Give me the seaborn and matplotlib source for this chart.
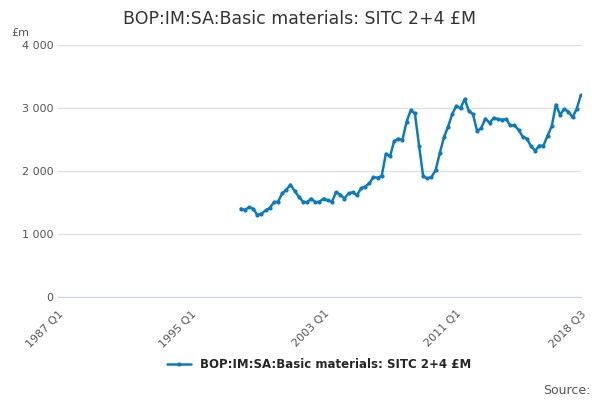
import numpy as np
import pandas as pd
import seaborn as sns
import matplotlib.pyplot as plt
from matplotlib.ticker import FuncFormatter

series_name = "BOP:IM:SA:Basic materials: SITC 2+4 £M"
start_quarter = 44  # 1998 Q1, counted from 1987 Q1
values = [
    1400, 1380, 1420, 1400,
    1300, 1320, 1370, 1410,
    1500, 1510, 1640, 1700,
    1780, 1680, 1590, 1510,
    1500, 1560, 1500, 1510,
    1560, 1530, 1510, 1660,
    1620, 1560, 1640, 1660,
    1610, 1720, 1750, 1800,
    1900, 1890, 1920, 2270,
    2230, 2470, 2510, 2490,
    2780, 2960, 2910, 2400,
    1910, 1880, 1900, 2010,
    2280, 2530, 2700, 2900,
    3030, 2990, 3140, 2950,
    2900, 2630, 2680, 2830,
    2760, 2840, 2820, 2810,
    2820, 2720, 2720, 2650,
    2540, 2510, 2390, 2320,
    2400, 2400, 2560, 2710,
    3050, 2890, 2980, 2940,
    2850, 2980, 3200,
]
tick_labels = ["1987 Q1", "1995 Q1", "2003 Q1", "2011 Q1", "2018 Q3"]
tick_pos = [0, 32, 64, 96, 126]

df = pd.DataFrame({"q": np.arange(start_quarter, start_quarter + len(values)), "v": values})

sns.set_style("white")
fig, ax = plt.subplots(figsize=(6, 4), dpi=100)
fig.subplots_adjust(left=0.097, right=0.968, top=0.888, bottom=0.258)
color = "#0b7bc1"
sns.lineplot(data=df, x="q", y="v", ax=ax, color=color, lw=1.8, marker="o",
             markersize=3, markeredgewidth=0, label=series_name)

ax.set_xlim(0, 126)
ax.set_ylim(0, 4000)
ax.set_yticks([0, 1000, 2000, 3000, 4000])
ax.yaxis.set_major_formatter(FuncFormatter(lambda v, p: f"{int(v):,}".replace(",", " ")))
ax.grid(axis="y", color="#e0e0e0", lw=1)
ax.set_xticks(tick_pos)
ax.set_xticklabels(tick_labels, rotation=45, ha="right", rotation_mode="anchor")
ax.set_xticks(np.arange(0, 127, 8), minor=True)
ax.tick_params(axis="x", which="both", length=5, color="#ccd6eb", labelsize=8, labelcolor="#555555")
ax.tick_params(axis="y", length=0, labelsize=8, labelcolor="#555555")
for s in ["top", "right", "left"]:
    ax.spines[s].set_visible(False)
ax.spines["bottom"].set_color("#ccd6eb")
ax.set_xlabel("")
ax.set_ylabel("")

fig.suptitle(series_name, fontsize=12.5, color="#333333", y=0.975)
fig.text(0.018, 0.91, "£m", fontsize=8, color="#555555")
ax.legend(loc="upper center", bbox_to_anchor=(0.5, -0.2), frameon=False, fontsize=8.5,
          prop={"weight": "bold", "size": 8.5}, handlelength=2)
fig.text(0.985, 0.015, "Source:", fontsize=9, color="#555555", ha="right")
fig.savefig("out.png")
